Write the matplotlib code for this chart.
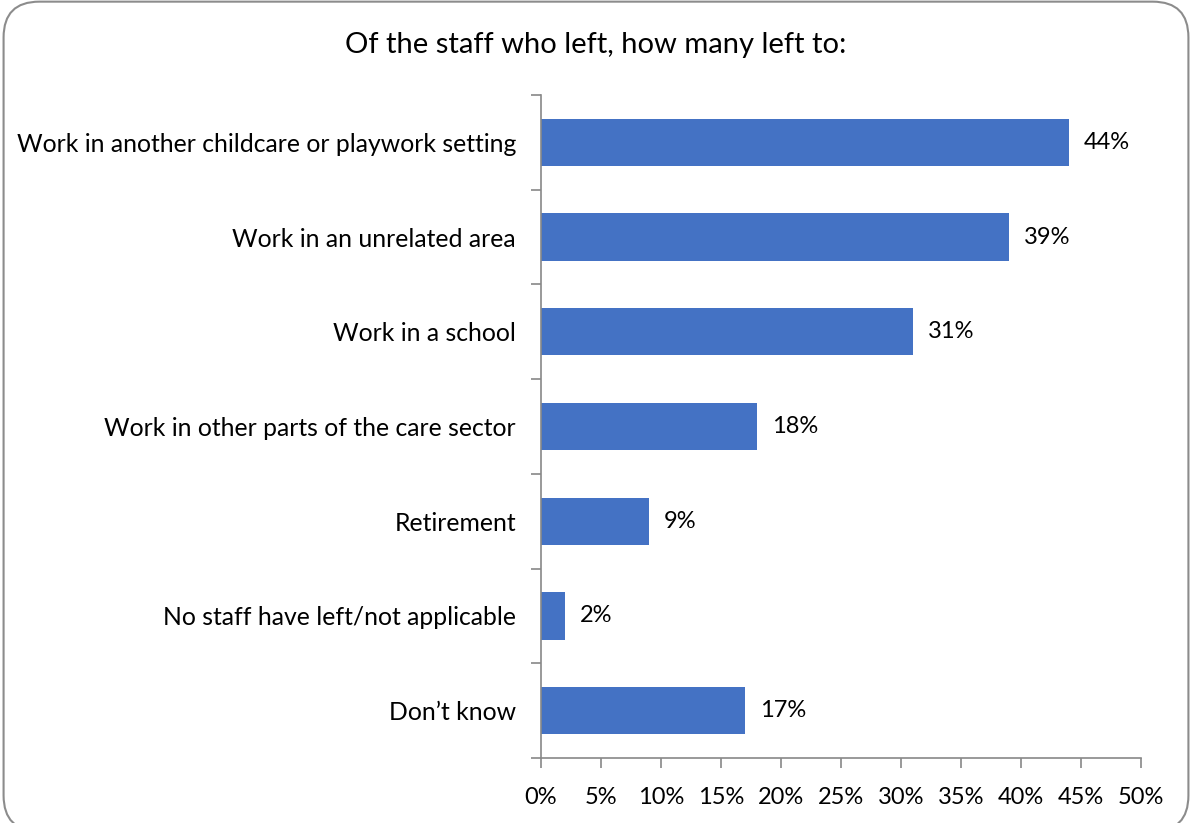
import matplotlib.pyplot as plt
from matplotlib.patches import FancyBboxPatch

categories = [
    "Work in another childcare or playwork setting",
    "Work in an unrelated area",
    "Work in a school",
    "Work in other parts of the care sector",
    "Retirement",
    "No staff have left/not applicable",
    "Don\u2019t know",
]
values = [44, 39, 31, 18, 9, 2, 17]
xticks = [0, 5, 10, 15, 20, 25, 30, 35, 40, 45, 50]

plt.rcParams['font.family'] = ['Lato', 'DejaVu Sans']

fig = plt.figure(figsize=(11.92, 8.23), dpi=100)
ax = fig.add_axes([0.4539, 0.079, 0.5033, 0.8056])

pos = list(range(len(categories)))
ax.barh(pos, values, height=0.5, color='#4472C4')
ax.set_ylim(len(categories) - 0.5, -0.5)
ax.set_xlim(0, 50)

for p, v in zip(pos, values):
    ax.text(v + 1.25, p, f"{v}%", va='center', ha='left', fontsize=17, color='#000000')

# category labels sit between the boundary ticks
ax.set_yticks(pos)
ax.set_yticklabels(categories, fontsize=17.8)
ax.tick_params(axis='y', length=0, pad=18)
ax.set_yticks([i - 0.5 for i in range(len(categories) + 1)], minor=True)
ax.tick_params(axis='y', which='minor', length=7, color='#888888', width=1.2)

ax.set_xticks(xticks)
ax.set_xticklabels([f"{t}%" for t in xticks], fontsize=17)
ax.tick_params(axis='x', length=7, color='#888888', width=1.2, pad=14)

for s in ['top', 'right']:
    ax.spines[s].set_visible(False)
for s in ['left', 'bottom']:
    ax.spines[s].set_color('#888888')
    ax.spines[s].set_linewidth(1.2)

fig.text(0.5, 0.945, "Of the staff who left, how many left to:", ha='center', va='center',
         fontsize=21)

frame = FancyBboxPatch((0.003, -0.01), 0.994, 1.008, transform=fig.transFigure,
                       boxstyle="round,pad=0,rounding_size=0.03", fill=False,
                       edgecolor='#8c8c8c', linewidth=1.5, mutation_aspect=1192 / 823)
fig.patches.append(frame)

fig.savefig("out.png", dpi=100)
